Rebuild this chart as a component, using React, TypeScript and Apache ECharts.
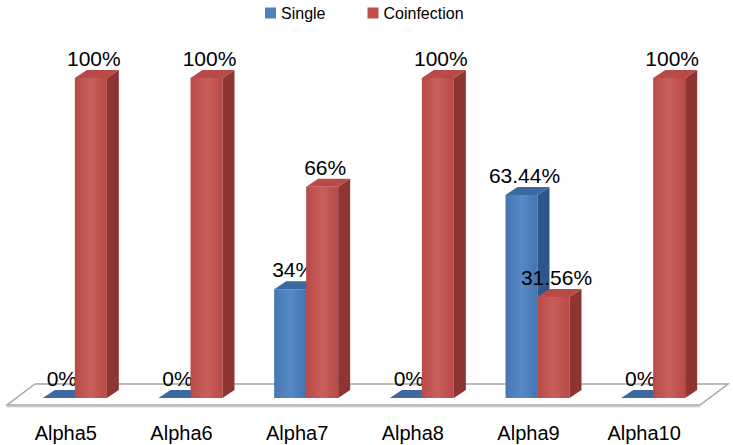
import React, { useEffect, useRef } from "react";
import * as echarts from "echarts";

const categories = ["Alpha5", "Alpha6", "Alpha7", "Alpha8", "Alpha9", "Alpha10"];
const singleValues = [0, 0, 34, 0, 63.44, 0];
const coinfectionValues = [100, 100, 66, 100, 31.56, 100];
const seriesNames = ["Single", "Coinfection"];

const FONT = "'Liberation Sans', Arial, sans-serif";
const BAR_W = 32;
const SHIFT = 9;
const DX = 12;
const DY = 8;

const palettes = [
  { front: ["#4677B2", "#5689C6", "#4374B0"], top: "#3B69A0", side: "#2D578A", legend: "#4F81BD" },
  { front: ["#B94A47", "#C95F5C", "#B84946"], top: "#B84A47", side: "#8E3432", legend: "#C0504D" },
];

function makeBarRenderer(idx: number) {
  const pal = palettes[idx];
  return (params: any, api: any) => {
    const cat = api.value(0);
    const v = api.value(1);
    const top = api.coord([cat, v]);
    const base = api.coord([cat, 0]);
    const xc = top[0] + SHIFT;
    const x0 = idx === 0 ? xc - BAR_W : xc;
    const x1 = x0 + BAR_W;
    const yTop = top[1];
    const yBase = base[1];
    const children: any[] = [];
    if (yBase - yTop > 0.5) {
      children.push({
        type: "rect",
        shape: { x: x0, y: yTop, width: BAR_W, height: yBase - yTop },
        style: {
          fill: new echarts.graphic.LinearGradient(0, 0, 1, 0, [
            { offset: 0, color: pal.front[0] },
            { offset: 0.5, color: pal.front[1] },
            { offset: 1, color: pal.front[2] },
          ]),
        },
      });
      children.push({
        type: "polygon",
        shape: { points: [[x1, yTop], [x1 + DX, yTop - DY], [x1 + DX, yBase - DY], [x1, yBase]] },
        style: { fill: pal.side },
      });
    }
    children.push({
      type: "polygon",
      shape: { points: [[x0, yTop], [x1, yTop], [x1 + DX, yTop - DY], [x0 + DX, yTop - DY]] },
      style: { fill: pal.top },
    });
    children.push({
      type: "text",
      z2: 100,
      style: {
        text: `${v}%`,
        x: (x0 + x1) / 2 + 3,
        y: yTop - DY - 1,
        align: "center",
        verticalAlign: "bottom",
        fontSize: 21,
        fontFamily: FONT,
        fill: "#000",
      },
    });
    return { type: "group", children };
  };
}

function renderFloor(params: any) {
  const cs = params.coordSys;
  const baseY = cs.y + cs.height;
  const xl = cs.x - 1;
  const xr = cs.x + cs.width - 2;
  return {
    type: "group",
    children: [
      {
        type: "polygon",
        shape: {
          points: [
            [xl, baseY + 7],
            [xr, baseY + 7],
            [xr + 28, baseY - 14],
            [xl + 28, baseY - 14],
          ],
        },
        style: { fill: "#FFFFFF", stroke: "#A6A6A6", lineWidth: 1.5 },
      },
      {
        type: "line",
        shape: { x1: xl, y1: baseY + 8.5, x2: xr, y2: baseY + 8.5 },
        style: { stroke: "#C8C8C8", lineWidth: 1.5 },
      },
    ],
  };
}

export default function App() {
  const ref = useRef<HTMLDivElement>(null);
  useEffect(() => {
    if (!ref.current) return;
    const chart = echarts.init(ref.current, undefined, { renderer: "svg" });
    chart.setOption({
      animation: false,
      backgroundColor: "#FFFFFF",
      textStyle: { fontFamily: FONT },
      legend: {
        data: seriesNames,
        left: 260,
        top: 0,
        itemWidth: 11,
        itemHeight: 11,
        itemGap: 42,
        icon: "rect",
        textStyle: { fontSize: 16, color: "#000", fontFamily: FONT },
      },
      grid: { left: 8, right: 31, top: 78, bottom: 47 },
      xAxis: {
        type: "category",
        data: categories,
        axisLine: { show: false },
        axisTick: { show: false },
        axisLabel: { fontSize: 20, color: "#000", margin: 25, fontFamily: FONT },
      },
      yAxis: {
        type: "value",
        min: 0,
        max: 100,
        show: false,
        splitLine: { show: false },
      },
      series: [
        {
          type: "custom",
          name: "floor",
          silent: true,
          renderItem: renderFloor,
          data: [[0, 0]],
          encode: { x: 0, y: 1 },
          z: 1,
        },
        {
          type: "custom",
          name: seriesNames[0],
          renderItem: makeBarRenderer(0),
          data: singleValues.map((v, i) => [i, v]),
          encode: { x: 0, y: 1 },
          itemStyle: { color: palettes[0].legend },
          z: 2,
        },
        {
          type: "custom",
          name: seriesNames[1],
          renderItem: makeBarRenderer(1),
          data: coinfectionValues.map((v, i) => [i, v]),
          encode: { x: 0, y: 1 },
          itemStyle: { color: palettes[1].legend },
          z: 3,
        },
      ],
    });
    return () => chart.dispose();
  }, []);
  return (
    <div
      ref={ref}
      style={{ position: "fixed", left: 0, top: 0, width: 733, height: 445, background: "#fff" }}
    />
  );
}
